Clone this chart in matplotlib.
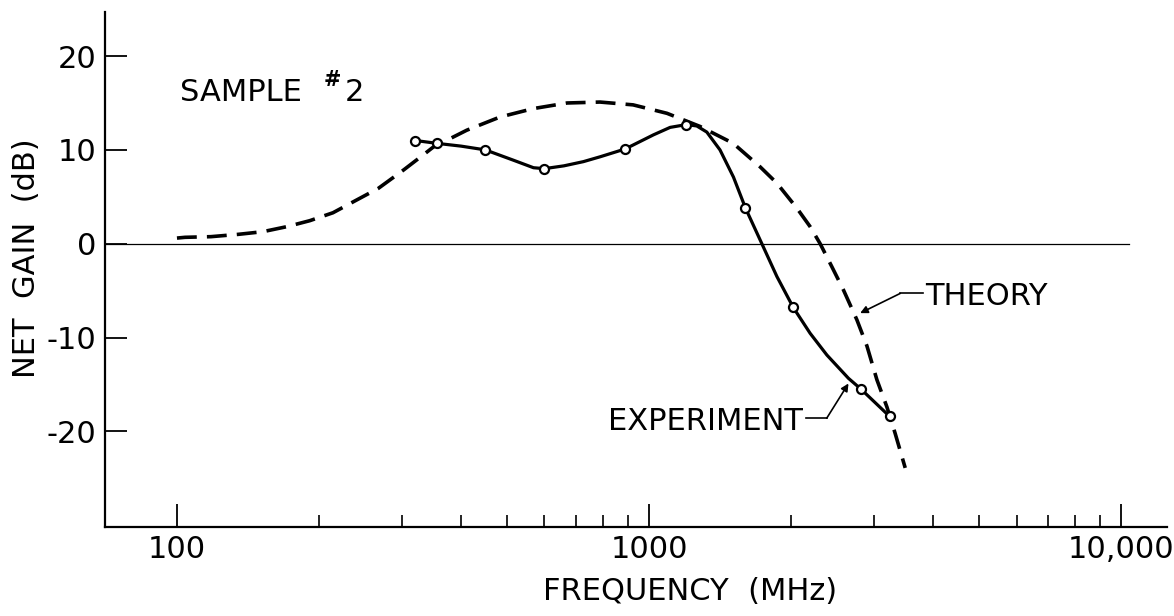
import matplotlib
matplotlib.use("Agg")
import matplotlib.pyplot as plt
from matplotlib.ticker import FixedLocator, FixedFormatter, NullFormatter

plt.rcParams['font.family'] = ['DejaVu Sans']

# ---- data ----
# Measured points (MHz, dB)
exp_f = [320, 355, 450, 600, 890, 1200, 1600, 2020, 2810, 3230]
exp_db = [11.0, 10.7, 10.0, 8.0, 10.1, 12.7, 3.8, -6.8, -15.5, -18.4]

# Hand-drawn experiment curve
exp_curve_f = [320, 355, 400, 450, 516, 569, 600, 660, 726, 788, 890, 1021,
               1108, 1200, 1262, 1325, 1413, 1509, 1600, 1733, 1865, 2020,
               2193, 2380, 2644, 2810, 3230]
exp_curve_db = [11.0, 10.7, 10.4, 10.0, 8.9, 8.1, 8.0, 8.3, 8.75, 9.27, 10.1,
                11.6, 12.4, 12.7, 12.55, 11.9, 10.0, 7.1, 3.8, 0.0, -3.5, -6.8,
                -9.55, -11.87, -14.35, -15.5, -18.4]

# Theory curve
theory_f = [100, 104, 118, 135, 152, 171, 191, 214, 240, 267, 302, 335, 349,
            411, 483, 568, 670, 787, 925, 1091, 1282, 1507, 1718, 1865, 2055,
            2193, 2303, 2438, 2580, 2754, 2893, 3037, 3189, 3319, 3487]
theory_db = [0.6, 0.68, 0.75, 1.0, 1.28, 1.82, 2.45, 3.3, 4.65, 5.9, 7.86, 9.6,
             10.3, 12.1, 13.5, 14.4, 15.0, 15.1, 14.8, 13.9, 12.5, 10.7, 8.2,
             6.45, 3.8, 1.82, 0.0, -2.45, -4.93, -8.1, -10.9, -14.5, -17.4,
             -20.2, -23.9]

x_major = [100, 1000, 10000]
x_major_labels = ["100", "1000", "10,000"]
x_minor = [200, 300, 400, 500, 600, 700, 800, 900,
           2000, 3000, 4000, 5000, 6000, 7000, 8000, 9000]
y_ticks = [-20, -10, 0, 10, 20]
y_tick_labels = ["-20", "-10", "0", "10", "20"]

FS = 22

fig = plt.figure(figsize=(11.74, 6.16), dpi=100)
ax = fig.add_axes([105 / 1174, 1 - 527 / 616, (1167 - 105) / 1174, (527 - 12) / 616])

ax.set_xscale('log')
ax.set_xlim(70.4, 12500)
ax.set_ylim(-30.2, 24.7)

# zero reference line
ax.plot([70.4, 10400], [0, 0], color='black', lw=0.9, zorder=1)

# theory (dashed)
ax.plot(theory_f, theory_db, color='black', lw=2.6,
        linestyle=(0, (5.5, 2.8)), dash_capstyle='butt', zorder=2)

# experiment curve + points
ax.plot(exp_curve_f, exp_curve_db, color='black', lw=2.3, zorder=3)
ax.plot(exp_f, exp_db, linestyle='none', marker='o', ms=6.5, mfc='white',
        mec='black', mew=1.6, zorder=4)

# spines
for s in ['top', 'right']:
    ax.spines[s].set_visible(False)
for s in ['left', 'bottom']:
    ax.spines[s].set_linewidth(1.6)

# ticks
ax.xaxis.set_major_locator(FixedLocator(x_major))
ax.xaxis.set_major_formatter(FixedFormatter(x_major_labels))
ax.xaxis.set_minor_locator(FixedLocator(x_minor))
ax.xaxis.set_minor_formatter(NullFormatter())
ax.yaxis.set_major_locator(FixedLocator(y_ticks))
ax.yaxis.set_major_formatter(FixedFormatter(y_tick_labels))
ax.yaxis.set_minor_locator(FixedLocator([]))

ax.tick_params(axis='x', which='major', direction='in', length=16.5, width=1.3,
               pad=6, labelsize=FS)
ax.tick_params(axis='x', which='minor', direction='in', length=8.5, width=1.2)
ax.tick_params(axis='y', which='major', direction='in', length=16, width=1.3,
               pad=6, labelsize=FS)

# axis labels
ax.set_xlabel("FREQUENCY  (MHz)", fontsize=FS, va='center')
ax.xaxis.set_label_coords((690 - 105) / 1062, (527 - 591) / 515)
ax.set_ylabel("NET  GAIN  (dB)", fontsize=FS, va='center')
ax.yaxis.set_label_coords((27 - 105) / 1062, (527 - 258) / 515)

# "SAMPLE #2"
ax.text(101.5, 16.1, "SAMPLE", fontsize=FS, ha='left', va='center')
ax.text(204, 17.4, "#", fontsize=15, ha='left', va='center', fontweight='bold')
ax.text(227, 16.1, "2", fontsize=FS, ha='left', va='center')

# THEORY annotation
ax.text(3846, -5.6, "THEORY", fontsize=FS, ha='left', va='center')
ax.plot([3403, 3800], [-5.3, -5.3], color='black', lw=1.2)
ax.annotate("", xy=(2799, -7.4), xytext=(3403, -5.3),
            arrowprops=dict(arrowstyle='-|>', color='black', lw=1.2,
                            mutation_scale=11, shrinkA=0, shrinkB=0))

# EXPERIMENT annotation
ax.text(2118, -19.0, "EXPERIMENT", fontsize=FS, ha='right', va='center')
ax.plot([2150, 2378], [-18.6, -18.6], color='black', lw=1.2)
ax.annotate("", xy=(2644, -14.9), xytext=(2378, -18.6),
            arrowprops=dict(arrowstyle='-|>', color='black', lw=1.2,
                            mutation_scale=11, shrinkA=0, shrinkB=0))

fig.savefig("out.png", dpi=100)
